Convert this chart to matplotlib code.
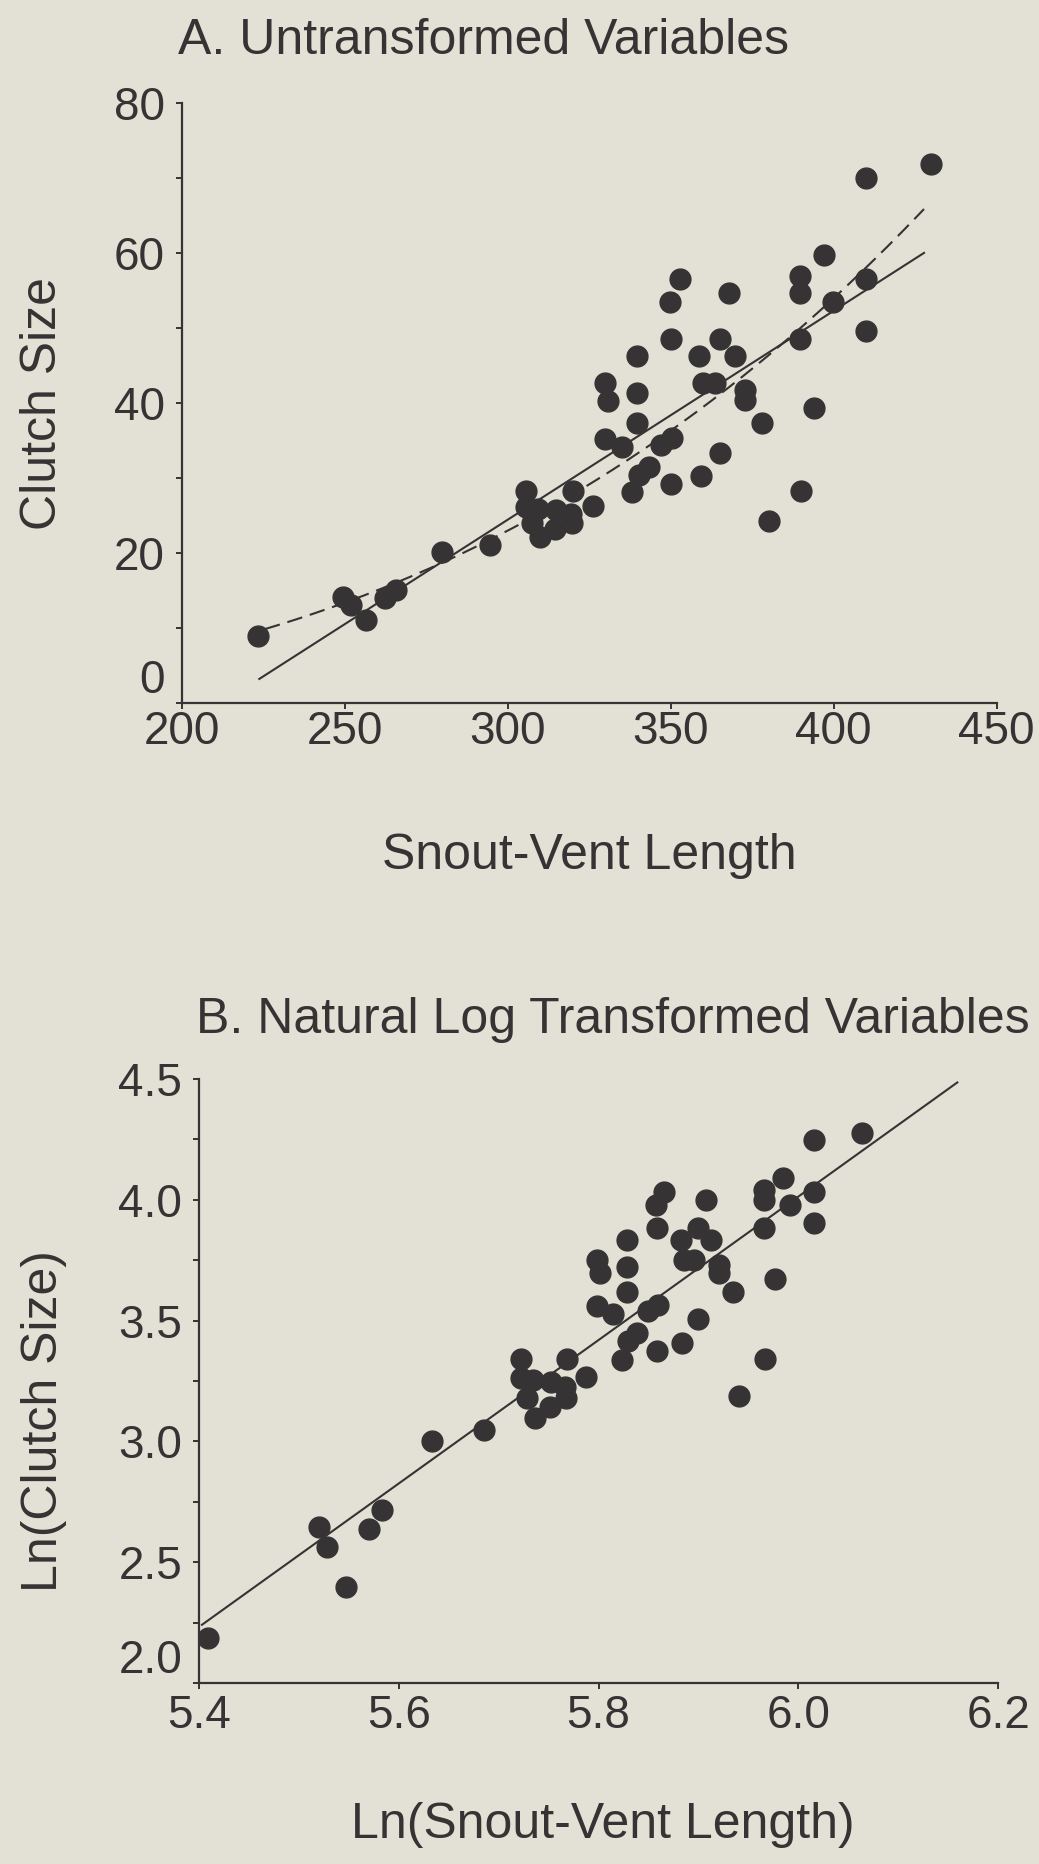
import matplotlib.pyplot as plt
import numpy as np
from matplotlib.transforms import ScaledTranslation

plt.rcParams['font.family'] = ['Liberation Sans', 'DejaVu Sans']

# snout-vent length and clutch size
svl = [223.5, 249.6, 251.8, 256.5, 262.4, 265.8, 279.7, 294.6,
       305.6, 305.6, 309.3, 307.4, 309.9, 314.9, 314.6, 319.4, 319.7, 319.9, 326.1,
       329.7, 330.7, 339.8, 339.8, 339.8, 329.7, 335.0, 346.9, 350.4, 343.2,
       340.2, 338.1, 350.0, 359.2, 365.0, 352.8, 349.7, 350.0, 367.9, 358.8,
       365.0, 369.7, 359.9, 363.5, 372.7, 372.7, 378.0, 380.0, 390.0, 394.0,
       389.6, 389.6, 389.6, 399.9, 397.1, 409.9, 409.9, 409.9, 429.8]
clutch = [8.9, 14.1, 13.0, 11.0, 14.0, 15.1, 20.1, 21.1,
          28.3, 26.1, 25.9, 24.0, 22.1, 25.7, 23.2, 25.2, 24.0, 28.2, 26.2,
          42.6, 40.3, 41.3, 46.3, 37.3, 35.2, 34.1, 34.4, 35.3, 31.4,
          30.4, 28.1, 29.2, 30.2, 33.3, 56.5, 53.4, 48.5, 54.6, 46.3,
          48.5, 46.3, 42.6, 42.6, 41.7, 40.4, 37.3, 24.2, 28.3, 39.3,
          48.5, 54.6, 56.9, 53.4, 59.7, 49.6, 56.5, 70.0, 71.9]

# regression lines (end points)
lin_x = [223.8, 427.7]
lin_y = [3.2, 60.0]
log_x = [5.403, 6.159]
log_y = [2.241, 4.486]
curve_x = [225.5, 427.7]

bg = '#e3e0d5'
ink = '#353333'

fig = plt.figure(figsize=(10.39, 18.64), dpi=100, facecolor=bg)
ax1 = fig.add_axes([0.1749, 0.6229, 0.7844, 0.3219])
ax2 = fig.add_axes([0.1915, 0.0971, 0.7693, 0.3240])

# panel A
ax1.plot(svl, clutch, 'o', color=ink, markersize=15, zorder=3)
ax1.plot(lin_x, lin_y, color=ink, linewidth=1.5)
# back-transformed log-log fit drawn as the dashed curve
b = (log_y[1] - log_y[0]) / (log_x[1] - log_x[0])
a = log_y[0] - b * log_x[0]
xs = np.linspace(curve_x[0], curve_x[1], 200)
dash, = ax1.plot(xs, np.exp(a + b * np.log(xs)), color=ink, linewidth=1.5)
dash.set_dashes((7.5, 3.8))
ax1.set_xlim(200, 450)
ax1.set_ylim(0, 80)
ax1.set_xticks([200, 250, 300, 350, 400, 450])
ax1.set_yticks([0, 20, 40, 60, 80])
ax1.set_yticks([10, 30, 50, 70], minor=True)

# panel B
ax2.plot(np.log(svl), np.log(clutch), 'o', color=ink, markersize=15, zorder=3)
ax2.plot(log_x, log_y, color=ink, linewidth=1.5)
ax2.set_xlim(5.4, 6.2)
ax2.set_ylim(2.0, 4.5)
ax2.set_xticks([5.4, 5.6, 5.8, 6.0, 6.2])
ax2.set_xticklabels(['5.4', '5.6', '5.8', '6.0', '6.2'])
ax2.set_yticks([2.0, 2.5, 3.0, 3.5, 4.0, 4.5])
ax2.set_yticklabels(['2.0', '2.5', '3.0', '3.5', '4.0', '4.5'])
ax2.set_yticks([2.25, 2.75, 3.25, 3.75, 4.25], minor=True)

for ax in (ax1, ax2):
    ax.set_facecolor(bg)
    for s in ['top', 'right']:
        ax.spines[s].set_visible(False)
    for s in ['left', 'bottom']:
        ax.spines[s].set_color(ink)
        ax.spines[s].set_linewidth(1.6)
    ax.tick_params(axis='both', which='both', colors=ink, labelcolor=ink,
                   labelsize=33, width=1.4, length=4)
    ax.tick_params(axis='y', pad=8)
ax1.tick_params(axis='x', pad=1)
ax2.tick_params(axis='x', pad=4)

# bottom labels of the y axes sit a bit higher
for ax in (ax1, ax2):
    lab = ax.yaxis.get_major_ticks()[0].label1
    lab.set_transform(lab.get_transform() + ScaledTranslation(0, 0.27, fig.dpi_scale_trans))

W, H = 1039, 1864
fig.text(178 / W, 1 - 41 / H, 'A. Untransformed Variables', fontsize=36,
         color=ink, ha='left', va='center')
fig.text(196 / W, 1 - 1020 / H, 'B. Natural Log Transformed Variables', fontsize=36,
         color=ink, ha='left', va='center')
fig.text(589 / W, 1 - 856 / H, 'Snout-Vent Length', fontsize=36,
         color=ink, ha='center', va='center')
fig.text(603 / W, 1 - 1825 / H, 'Ln(Snout-Vent Length)', fontsize=36,
         color=ink, ha='center', va='center')
fig.text(43 / W, 1 - 404 / H, 'Clutch Size', fontsize=36, rotation=90,
         color=ink, ha='center', va='center')
fig.text(44 / W, 1 - 1421 / H, 'Ln(Clutch Size)', fontsize=36, rotation=90,
         color=ink, ha='center', va='center')

fig.savefig('out.png', dpi=100, facecolor=bg)
